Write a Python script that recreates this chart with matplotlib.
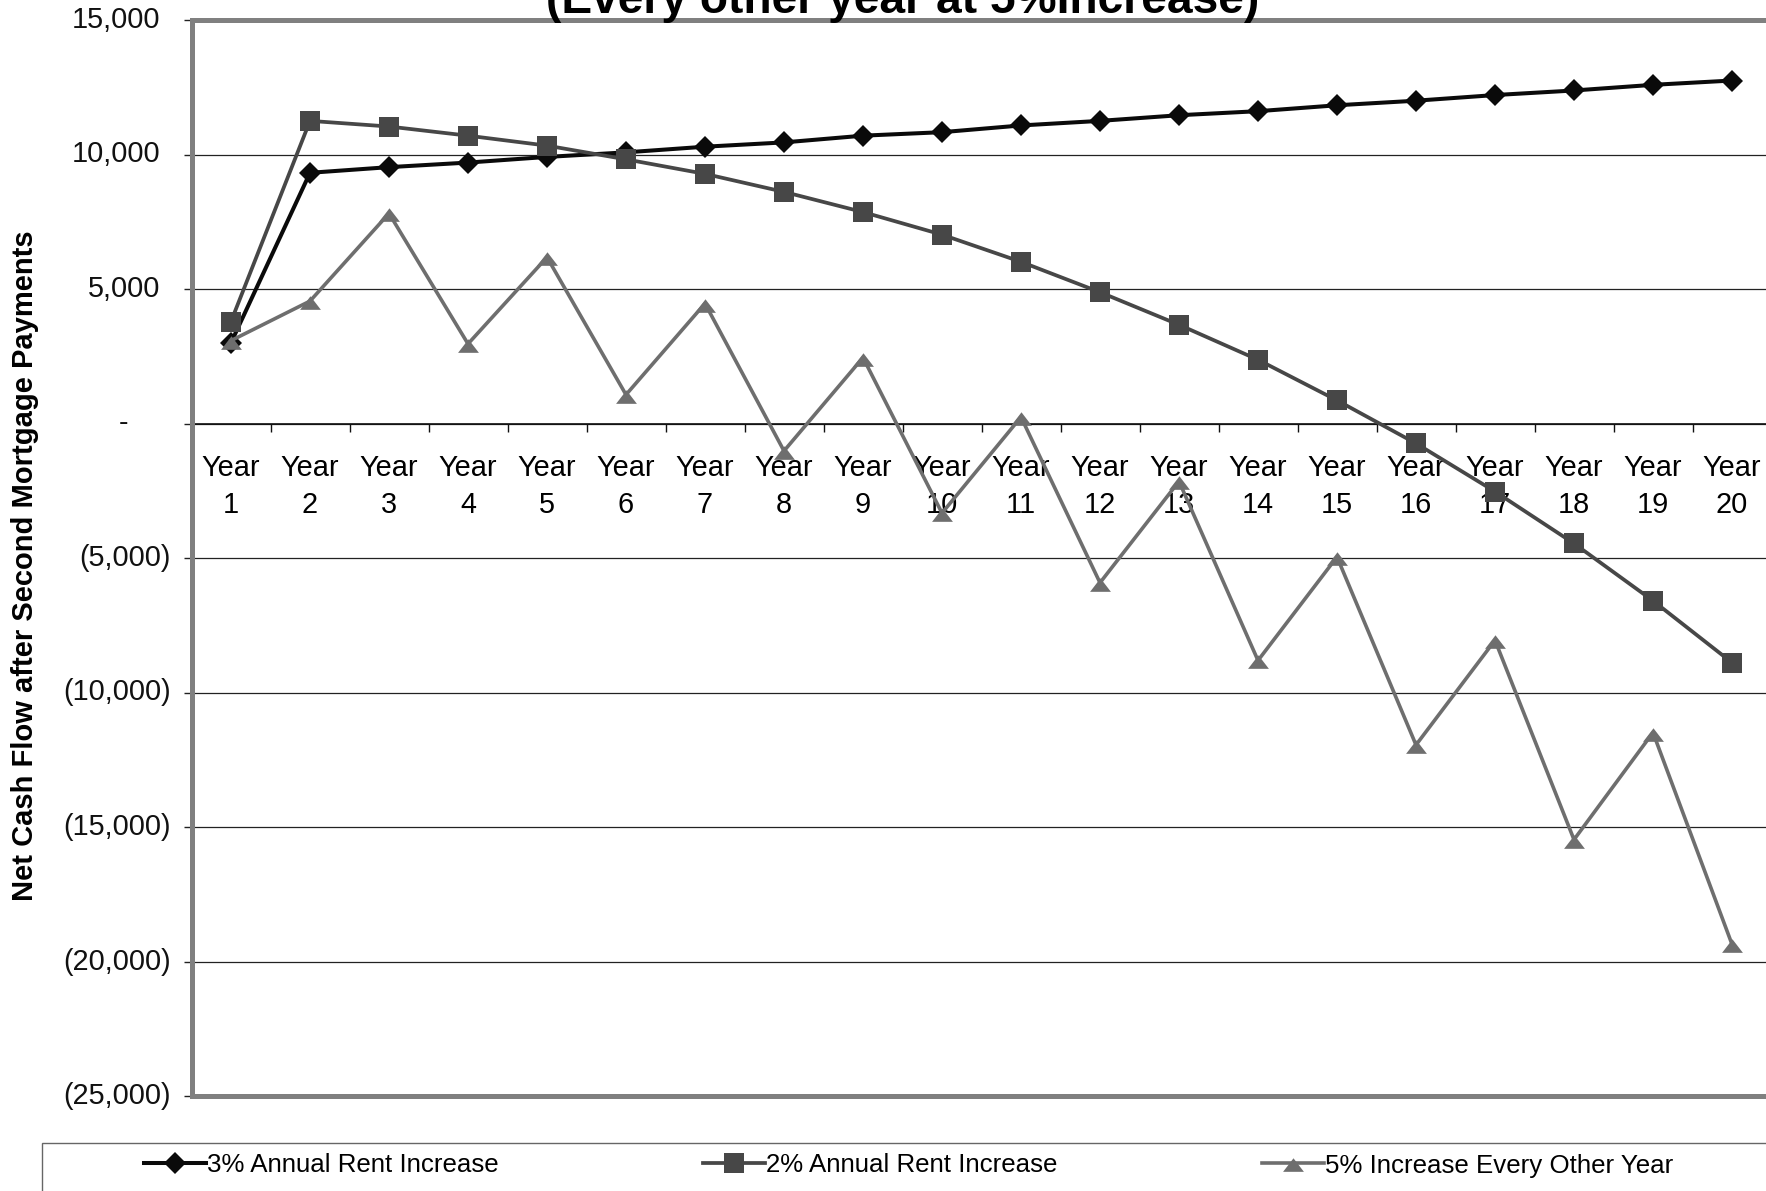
import matplotlib
matplotlib.use("Agg")
import matplotlib.pyplot as plt
from matplotlib.patches import Rectangle
from matplotlib.transforms import ScaledTranslation
from matplotlib.ticker import FixedLocator

plt.rcParams['font.family'] = ['Liberation Sans', 'DejaVu Sans']

years = [f"Year\n{i}" for i in range(1, 21)]
x = list(range(1, 21))

rent3 = [3000, 9320, 9530, 9700, 9910, 10080, 10290, 10450, 10700, 10830,
         11080, 11250, 11460, 11610, 11830, 12000, 12210, 12380, 12590, 12750]
rent2 = [3790, 11250, 11040, 10700, 10330, 9820, 9280, 8610, 7860, 7020,
         6010, 4880, 3670, 2370, 860, -740, -2530, -4460, -6590, -8890]
every_other = [3080, 4550, 7810, 2960, 6180, 1070, 4460, -1020, 2450, -3330,
               240, -5920, -2150, -8810, -4960, -11950, -8060, -15470, -11490, -19360]

series_names = ["3% Annual Rent Increase", "2% Annual Rent Increase",
                "5% Increase Every Other Year"]
yticks = [15000, 10000, 5000, 0, -5000, -10000, -15000, -20000, -25000]
title_text = "(Every other year at 5%Increase)"
ylabel_text = "Net Cash Flow after Second Mortgage Payments"

W, H = 1766, 1191
fig = plt.figure(figsize=(W / 100, H / 100), dpi=100)
ax = fig.add_axes([191.5 / W, 1 - 1096 / H, 1580 / W, 1076 / H])

tri = [(-1, -0.8), (1, -0.8), (0, 0.5), (-1, -0.8)]

l1, = ax.plot(x, rent3, color='#0a0a0a', lw=2.9, marker='D', ms=11,
              markeredgewidth=0, zorder=3)
l2, = ax.plot(x, rent2, color='#474747', lw=2.7, marker='s', ms=14,
              markeredgewidth=0, zorder=4)
l3, = ax.plot(x, every_other, color='#6e6e6e', lw=2.6, marker=tri, ms=15,
              markeredgewidth=0, zorder=5)

ax.set_xlim(0.5, 20.5)
ax.set_ylim(-25000, 15000)

# grid
for v in yticks:
    ax.axhline(v, color='#222222', lw=0.9, zorder=1)

# spines / border
for s in ['left', 'top', 'right']:
    ax.spines[s].set_color('#808080')
    ax.spines[s].set_linewidth(3.6)
ax.spines['bottom'].set_position(('data', 0))
ax.spines['bottom'].set_color('#111111')
ax.spines['bottom'].set_linewidth(1.2)
ax.spines['bottom'].set_zorder(2)
ax.axhline(-25000, color='#808080', lw=3.6, clip_on=False, zorder=2)

# x ticks
ax.set_xticks(x)
ax.set_xticklabels(years, fontsize=20.8, linespacing=1.43)
ax.xaxis.set_minor_locator(FixedLocator([i + 0.5 for i in range(0, 21)]))
ax.tick_params(axis='x', which='major', length=0, pad=21.8)
ax.tick_params(axis='x', which='minor', length=6, width=1, color='#111111',
               direction='out')

# y ticks (labels drawn manually for accounting-style alignment)
ax.set_yticks(yticks)
ax.tick_params(axis='y', which='major', length=5.8, width=1, color='#222222',
               direction='out', labelleft=False)

ytr = ax.get_yaxis_transform()
for v in yticks:
    if v > 0:
        s, dx, ha = f"{v:,.0f}", -31, 'right'
    elif v < 0:
        s, dx, ha = f"({-v:,.0f})", -21, 'right'
    else:
        s, dx, ha = "-", -67.5, 'center'
    tr = ytr + ScaledTranslation(dx / 100, 0, fig.dpi_scale_trans)
    ax.text(0, v, s, transform=tr, ha=ha, va='center', fontsize=20.8,
            color='#111111', clip_on=False)

# title (cut off at top)
fig.text(903 / W, 1 - 13 / H, title_text, ha='center', va='baseline',
         fontsize=33.2, fontweight='bold', color='#000000')

# y label
fig.text(25 / W, 1 - 566 / H, ylabel_text, rotation=90, ha='center',
         va='center', fontsize=21, fontweight='bold', color='#000000')

# legend
fig.patches.append(Rectangle((42 / W, -0.05), 1.0, (H - 1143) / H + 0.05,
                             transform=fig.transFigure, fill=False,
                             edgecolor='#666666', lw=1.0))
fig.legend([l1, l2, l3], series_names, ncol=3, loc='center left',
           bbox_to_anchor=(131 / W, 1 - 1165.5 / H), frameon=False,
           borderpad=0, handlelength=2.4, handletextpad=0.05,
           columnspacing=7.9, fontsize=18.6, markerscale=1.0)

fig.savefig("out.png", dpi=100)
